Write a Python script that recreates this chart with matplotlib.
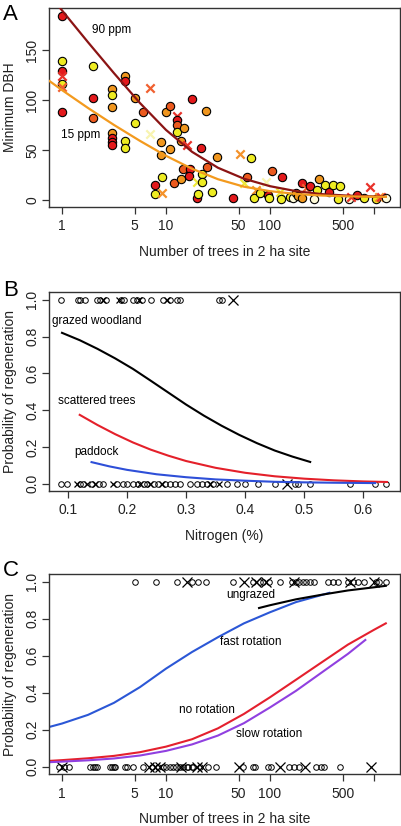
import numpy as np
import matplotlib
matplotlib.use('Agg')
import matplotlib.pyplot as plt

plt.rcParams['font.family'] = ['Liberation Sans', 'DejaVu Sans']
plt.rcParams['font.size'] = 10

# ---- panel A: minimum DBH vs number of trees ----
# colour class: 0 red, 1 red-orange, 2 orange, 3 yellow, 4 pale
a_x = [1, 1, 1, 1, 1, 1, 1, 2, 2, 2, 3, 3, 3, 3, 3, 3, 3, 4, 4, 4, 4, 5, 5, 6, 7, 7,
       9, 9, 9.1, 7.9, 7.9, 9.2, 10, 10.9, 10.9, 12, 12.8, 12.8, 12.8, 12.8, 13.8, 14,
       15, 14.6, 16, 17, 16.8, 17.9, 20, 20, 20.5, 21.8, 22.2, 22.2, 24, 25, 27.8, 31,
       44, 52, 56, 65, 60, 74, 70, 80, 91, 96, 98, 104, 131, 124, 127, 156, 166, 176,
       185, 204, 204, 220, 240, 268, 283, 295, 335, 368, 402, 449, 473, 581, 603, 683,
       809, 925, 1047, 1125, 1170, 1306]
a_y = [184, 139, 129, 124, 116, 113, 88, 134, 102, 82, 111, 105, 93, 67, 62, 58, 55, 124, 119, 59, 52, 102, 77, 88, 112, 66,
       58, 45, 23, 15, 6, 7, 88, 94, 51, 17, 84, 80, 75, 68, 59, 21,
       72, 31, 55, 31, 24, 101, 18, 2, 6, 52, 26, 18, 89, 33, 8, 43,
       2, 46, 17, 42, 23, 10, 2, 7, 18, 5, 2, 29, 23, 8, 1, 3, 2, 7,
       4, 17, 2, 12, 14, 1, 10, 21, 15, 8, 15, 1, 14, 1, 3, 5,
       2, 13, 1, 3, 3, 2]
a_cls = [0, 3, 0, 0, 3, 1, 0, 3, 0, 1, 2, 3, 2, 2, 0, 0, 0, 2, 0, 3, 3, 2, 3, 1, 1, 4,
         2, 2, 3, 0, 3, 2, 2, 1, 2, 1, 0, 0, 1, 3, 2, 2,
         2, 1, 0, 0, 0, 0, 3, 0, 3, 0, 3, 3, 2, 1, 3, 2,
         0, 2, 3, 3, 1, 2, 3, 3, 4, 0, 3, 1, 0, 3, 3, 3, 4, 2,
         2, 0, 2, 1, 0, 4, 3, 2, 3, 0, 3, 3, 3, 4, 0, 0,
         3, 0, 3, 2, 0, 4]
a_mk = ['o', 'o', 'o', 'x', 'o', 'x', 'o', 'o', 'o', 'o', 'o', 'o', 'o', 'o', 'o', 'o', 'o', 'o', 'o', 'o', 'o', 'o', 'o', 'o', 'x', 'x',
        'o', 'o', 'o', 'o', 'o', 'x', 'o', 'o', 'o', 'o', 'x', 'o', 'o', 'o', 'o', 'o',
        'o', 'o', 'x', 'o', 'o', 'o', 'x', 'o', 'o', 'o', 'o', 'o', 'o', 'o', 'o', 'o',
        'o', 'x', 'x', 'o', 'o', 'x', 'o', 'o', 'x', 'o', 'o', 'o', 'o', 'x', 'o', 'o', 'o', 'o',
        'o', 'o', 'o', 'x', 'o', 'o', 'o', 'o', 'o', 'o', 'o', 'o', 'o', 'o', 'x', 'o',
        'o', 'x', 'o', 'x', 'x', 'o']

# fitted curves
a_curve_x = [0.76, 1, 1.78, 3.16, 5.62, 10, 17.8, 31.6, 56.2, 100, 178, 316, 562, 1000, 1300]
a_90ppm = [205, 190, 158, 127, 97, 70, 48, 32, 21, 13.5, 8.5, 5.5, 4, 3.2, 3]
a_15ppm = [119, 110, 92, 75, 59, 44, 31, 20.5, 13, 8.5, 5.7, 4.1, 3.3, 2.9, 2.8]

# ---- panel B: probability of regeneration vs nitrogen ----
b_top_o = [0.089, 0.117, 0.121, 0.129, 0.149, 0.154, 0.165, 0.190, 0.195, 0.211, 0.217,
           0.225, 0.240, 0.261, 0.273, 0.284, 0.290, 0.356, 0.360]
b_top_x = [0.160, 0.186, 0.221, 0.267]
b_top_xl = [0.380]
b_bot_o = [0.089, 0.098, 0.121, 0.126, 0.141, 0.152, 0.160, 0.183, 0.194, 0.200, 0.211,
           0.219, 0.228, 0.234, 0.245, 0.253, 0.265, 0.273, 0.282, 0.290, 0.307, 0.318,
           0.327, 0.335, 0.346, 0.369, 0.387, 0.400, 0.422, 0.451, 0.484, 0.490, 0.510,
           0.577, 0.620, 0.639]
b_bot_x = [0.115, 0.132, 0.146, 0.177, 0.222, 0.239, 0.259, 0.341, 0.355]
b_bot_xl = [0.470]

b_gw_x = [0.09, 0.12, 0.15, 0.18, 0.21, 0.24, 0.27, 0.30, 0.33, 0.36, 0.39, 0.42, 0.45, 0.48, 0.51]
b_gw_y = [0.82, 0.78, 0.733, 0.681, 0.624, 0.56, 0.495, 0.43, 0.37, 0.315, 0.265, 0.22, 0.18, 0.147, 0.118]
b_st_x = [0.12, 0.15, 0.18, 0.21, 0.24, 0.27, 0.30, 0.35, 0.40, 0.45, 0.50, 0.55, 0.60, 0.64]
b_st_y = [0.374, 0.319, 0.269, 0.224, 0.185, 0.152, 0.123, 0.086, 0.059, 0.040, 0.027, 0.018, 0.012, 0.009]
b_pd_x = [0.14, 0.17, 0.20, 0.25, 0.30, 0.35, 0.40, 0.45, 0.50, 0.55, 0.62]
b_pd_y = [0.117, 0.094, 0.075, 0.051, 0.035, 0.023, 0.016, 0.010, 0.007, 0.005, 0.003]

# ---- panel C: probability of regeneration vs number of trees ----
c_top_o = [5, 8, 12.9, 17.6, 20.4, 24.2, 44, 68.7, 79.6, 85.7, 97.8, 126, 164, 179, 192,
           207, 223, 240, 268, 359, 401, 448, 558, 624, 697, 807, 1045, 1125, 1303]
c_top_x = [16.1, 56, 74, 92, 169, 588, 1007]
c_bot_o = [0.93, 1.04, 1.16, 1.87, 1.98, 2.09, 2.17, 2.9, 3.0, 3.13, 3.24, 4.05, 4.2, 4.86,
           6.06, 7.3, 8.45, 9.4, 10.1, 10.9, 11.7, 12.6, 13.6, 14.7, 15.8, 16.4, 17.6, 18.3,
           21.2, 25.5, 30.6, 55, 68.7, 71.3, 95.7, 103, 154, 172, 192, 278, 310, 334, 472]
c_bot_x = [1.0, 6.8, 7.85, 8.76, 14.1, 19.7, 22, 50.5, 124, 215]
c_bot_xl = [935]

c_fast_x = [0.76, 1, 1.78, 3.16, 5.62, 10, 17.8, 31.6, 56.2, 100, 178, 373]
c_fast_y = [0.215, 0.233, 0.28, 0.345, 0.43, 0.53, 0.62, 0.70, 0.775, 0.835, 0.89, 0.94]
c_no_x = [0.76, 1, 1.78, 3.16, 5.62, 10, 17.8, 31.6, 56.2, 100, 178, 316, 562, 1000, 1300]
c_no_y = [0.031, 0.035, 0.045, 0.058, 0.078, 0.108, 0.148, 0.207, 0.285, 0.375, 0.47, 0.565, 0.66, 0.74, 0.775]
c_slow_x = [0.76, 1, 1.78, 3.16, 5.62, 10, 17.8, 31.6, 56.2, 100, 178, 316, 562, 826]
c_slow_y = [0.024, 0.027, 0.034, 0.044, 0.06, 0.085, 0.12, 0.168, 0.235, 0.32, 0.41, 0.51, 0.61, 0.685]
c_ung_x = [78.5, 100, 178, 316, 562, 1000, 1300]
c_ung_y = [0.858, 0.873, 0.905, 0.93, 0.953, 0.97, 0.978]

fill_cols = ['#E3191C', '#EC5A1E', '#F0961E', '#EEEC22', '#FDFAD8']
cross_cols = ['#E8322A', '#F06030', '#F4922A', '#EEE83A', '#F8F4B0']

W, H = 402, 826
fig = plt.figure(figsize=(W / 100, H / 100), dpi=100)


def make_ax(top, bottom, left=49, right=400):
    return fig.add_axes([left / W, 1 - bottom / H, (right - left) / W, (bottom - top) / H])


def style(ax, xlabel, ylabel, letter, letter_y):
    for s in ax.spines.values():
        s.set_color('#333333')
        s.set_linewidth(1.0)
    ax.tick_params(axis='both', direction='out', length=5, width=0.9, color='#333333',
                   labelsize=10, labelcolor='#222222')
    ax.tick_params(axis='x', pad=4)
    ax.tick_params(axis='y', pad=2)
    for lab in ax.get_yticklabels():
        lab.set_rotation(90)
        lab.set_va('center')
    bh = ax.get_position().height * H
    bw = ax.get_position().width * W
    ax.text(0.5, -45 / bh, xlabel, transform=ax.transAxes, ha='center', va='center',
            fontsize=10, color='#222222')
    ax.text(-39 / bw, 0.5, ylabel, transform=ax.transAxes, ha='center', va='center',
            rotation=90, fontsize=10, color='#222222')
    fig.text(3 / W, 1 - letter_y / H, letter, ha='left', va='center',
             fontsize=16, color='black')


log_ticks = [1, 5, 10, 50, 100, 500, 1000]
log_labels = ['1', '5', '10', '50', '100', '500', '']

# panel A
ax = make_ax(8, 207)
ax.set_xscale('log')
for x, y, c, m in zip(a_x, a_y, a_cls, a_mk):
    if m == 'o':
        ax.scatter(x, y, s=36, c=fill_cols[c], edgecolors='black', linewidths=0.8, zorder=3)
    else:
        ax.scatter(x, y, s=36, c=cross_cols[c], marker='x', linewidths=1.6, zorder=3)
ax.plot(a_curve_x, a_90ppm, color='#8B1414', lw=1.6, zorder=4)
ax.plot(a_curve_x, a_15ppm, color='#F39A1E', lw=1.6, zorder=4)
ax.text(3.0, 170, '90 ppm', fontsize=8.5, ha='center', va='center')
ax.text(1.5, 65, '15 ppm', fontsize=8.5, ha='center', va='center')
ax.set_xlim(0.75, 1780)
ax.set_ylim(-7.4, 192.4)
ax.set_xticks(log_ticks)
ax.set_xticklabels(log_labels)
ax.xaxis.set_minor_locator(matplotlib.ticker.NullLocator())
ax.set_yticks([0, 50, 100, 150])
style(ax, 'Number of trees in 2 ha site', 'Minimum DBH', 'A', 15)

# panel B
ax = make_ax(292, 491)
ax.plot(b_top_o, [1.0] * len(b_top_o), 'o', mfc='none', mec='black', mew=0.7, ms=4)
ax.plot(b_bot_o, [0.0] * len(b_bot_o), 'o', mfc='none', mec='black', mew=0.7, ms=4)
ax.plot(b_top_x, [1.0] * len(b_top_x), 'x', color='black', mew=0.9, ms=5)
ax.plot(b_bot_x, [0.0] * len(b_bot_x), 'x', color='black', mew=0.9, ms=5)
ax.plot(b_top_xl, [1.0] * len(b_top_xl), 'x', color='black', mew=0.9, ms=7.5)
ax.plot(b_bot_xl, [0.0] * len(b_bot_xl), 'x', color='black', mew=0.9, ms=7.5)
ax.plot(b_gw_x, b_gw_y, color='black', lw=1.5)
ax.plot(b_st_x, b_st_y, color='#E4202A', lw=1.5)
ax.plot(b_pd_x, b_pd_y, color='#2E4FD8', lw=1.5)
ax.text(0.149, 0.885, 'grazed woodland', fontsize=8.5, ha='center', va='center')
ax.text(0.149, 0.449, 'scattered trees', fontsize=8.5, ha='center', va='center')
ax.text(0.149, 0.173, 'paddock', fontsize=8.5, ha='center', va='center')
ax.set_xlim(0.068, 0.662)
ax.set_ylim(-0.04, 1.042)
ax.set_xticks([0.1, 0.2, 0.3, 0.4, 0.5, 0.6])
ax.set_xticklabels(['0.1', '0.2', '0.3', '0.4', '0.5', '0.6'])
ax.set_yticks([0, 0.2, 0.4, 0.6, 0.8, 1.0])
ax.set_yticklabels(['0.0', '0.2', '0.4', '0.6', '0.8', '1.0'])
style(ax, 'Nitrogen (%)', 'Probability of regeneration', 'B', 291)

# panel C
ax = make_ax(574, 774)
ax.set_xscale('log')
ax.plot(c_top_o, [1.0] * len(c_top_o), 'o', mfc='none', mec='black', mew=0.7, ms=4)
ax.plot(c_bot_o, [0.0] * len(c_bot_o), 'o', mfc='none', mec='black', mew=0.7, ms=4)
ax.plot(c_top_x, [1.0] * len(c_top_x), 'x', color='black', mew=0.9, ms=6.5)
ax.plot(c_bot_x, [0.0] * len(c_bot_x), 'x', color='black', mew=0.9, ms=6.5)
ax.plot(c_bot_xl, [0.0] * len(c_bot_xl), 'x', color='black', mew=0.9, ms=7.5)
ax.plot(c_fast_x, c_fast_y, color='#2B57D6', lw=1.5)
ax.plot(c_no_x, c_no_y, color='#E4202E', lw=1.5)
ax.plot(c_slow_x, c_slow_y, color='#9040E0', lw=1.5)
ax.plot(c_ung_x, c_ung_y, color='black', lw=1.5)
ax.text(65, 0.927, 'ungrazed', fontsize=8.5, ha='center', va='center')
ax.text(66, 0.676, 'fast rotation', fontsize=8.5, ha='center', va='center')
ax.text(24.9, 0.305, 'no rotation', fontsize=8.5, ha='center', va='center')
ax.text(99, 0.178, 'slow rotation', fontsize=8.5, ha='center', va='center')
ax.set_xlim(0.75, 1780)
ax.set_ylim(-0.04, 1.042)
ax.set_xticks(log_ticks)
ax.set_xticklabels(log_labels)
ax.xaxis.set_minor_locator(matplotlib.ticker.NullLocator())
ax.set_yticks([0, 0.2, 0.4, 0.6, 0.8, 1.0])
ax.set_yticklabels(['0.0', '0.2', '0.4', '0.6', '0.8', '1.0'])
style(ax, 'Number of trees in 2 ha site', 'Probability of regeneration', 'C', 571)

fig.savefig('out.png', dpi=100)
